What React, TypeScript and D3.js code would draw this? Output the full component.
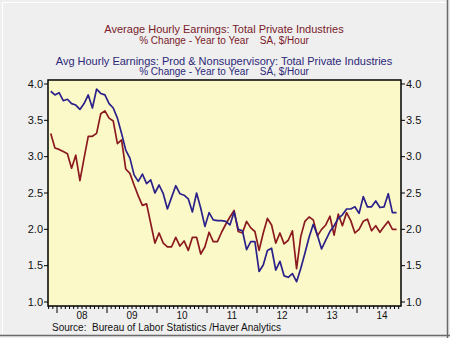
import React from 'react';
import * as d3 from 'd3';

// Monthly data, Nov 2007 .. Oct 2014 (Y/Y % change)
const startYear = 2007;
const startMonth = 10; // November (0-based)

const totalPrivate = [
  3.32, 3.12, 3.10, 3.07, 3.04, 2.84, 3.02, 2.67, 2.98, 3.28, 3.28, 3.32,
  3.59, 3.63, 3.53, 3.49, 3.18, 3.23, 2.83, 2.77, 2.61, 2.46, 2.33, 2.35,
  2.08, 1.81, 1.95, 1.81, 1.76, 1.76, 1.89, 1.77, 1.84, 1.71, 1.89, 1.89,
  1.66, 1.76, 1.96, 1.83, 1.83, 1.96, 2.07, 2.17, 2.26, 1.97, 1.95, 2.11,
  2.02, 1.97, 1.71, 1.95, 2.15, 2.06, 1.81, 1.95, 1.80, 1.85, 1.98, 1.46,
  1.90, 2.11, 2.17, 2.13, 1.91, 2.00, 2.06, 2.18, 1.92, 2.21, 2.05, 2.23,
  2.12, 1.95, 2.00, 2.11, 2.14, 1.98, 2.05, 1.96, 2.04, 2.11, 2.00, 2.00,
];

const prodNonsup = [
  3.90, 3.85, 3.88, 3.77, 3.79, 3.73, 3.71, 3.65, 3.73, 3.85, 3.67, 3.93,
  3.87, 3.85, 3.73, 3.67, 3.53, 3.32, 3.09, 2.98, 2.75, 2.66, 2.76, 2.63,
  2.68, 2.50, 2.61, 2.49, 2.28, 2.44, 2.60, 2.49, 2.47, 2.42, 2.24, 2.50,
  2.29, 2.04, 2.23, 2.13, 2.12, 2.12, 2.11, 2.06, 2.24, 2.00, 1.98, 1.72,
  1.83, 1.83, 1.42, 1.51, 1.71, 1.74, 1.44, 1.56, 1.36, 1.34, 1.39, 1.28,
  1.46, 1.67, 1.89, 2.07, 1.92, 1.73, 1.85, 1.97, 2.05, 2.15, 2.20, 2.28,
  2.28, 2.31, 2.22, 2.45, 2.31, 2.31, 2.39, 2.30, 2.31, 2.49, 2.23, 2.23,
];

const yearLabels = ['08', '09', '10', '11', '12', '13', '14'];
const yTicks = [1.0, 1.5, 2.0, 2.5, 3.0, 3.5, 4.0];

const W = 450;
const H = 338;
const L = 48;
const R = 401;
const T = 80;
const B = 306;

const RED = '#8b1a1f';
const BLUE = '#2b218a';
const FONT = '"Liberation Sans", Arial, sans-serif';

export default function App() {
  const x = d3.scaleLinear().domain([2007.82, 2014.88]).range([L, R]);
  const y = d3.scaleLinear().domain([0.945, 4.055]).range([B, T]);
  const tAt = (i: number) => startYear + (startMonth + i + 0.5) / 12;

  const line = d3
    .line<number>()
    .x((_, i) => x(tAt(i)))
    .y((d) => y(d));

  const monthTicks: { t: number; major: boolean }[] = [];
  for (let yr = 2007; yr <= 2015; yr++) {
    for (let m = 0; m < 12; m++) {
      const t = yr + m / 12;
      if (x(t) >= L && x(t) <= R) monthTicks.push({ t, major: m === 0 });
    }
  }

  return (
    <svg
      width={W}
      height={H}
      style={{ position: 'absolute', left: 0, top: 0, display: 'block' }}
      fontFamily={FONT}
    >
      <defs>
        <clipPath id="plotclip">
          <rect x={L} y={T} width={R - L} height={B - T} />
        </clipPath>
      </defs>
      <rect x={0} y={0} width={W} height={H} fill="#efefef" />
      <line x1={2.5} y1={2} x2={2.5} y2={334} stroke="#ffffff" strokeWidth={1} />
      <line x1={2} y1={2.5} x2={446} y2={2.5} stroke="#ffffff" strokeWidth={1} />
      <line x1={447.5} y1={0} x2={447.5} y2={H} stroke="#6a6a6a" strokeWidth={1.5} />
      <line x1={0} y1={335.5} x2={W} y2={335.5} stroke="#6a6a6a" strokeWidth={1.5} />

      {/* titles */}
      <g textAnchor="middle">
        <text x={224} y={33} fontSize={11} fill="#7a1a2a">
          Average Hourly Earnings: Total Private Industries
        </text>
        <text x={224} y={44} fontSize={10} fill="#7a1a2a">
          % Change - Year to Year{'\u00a0\u00a0\u00a0\u00a0'}SA, $/Hour
        </text>
        <text x={224} y={65} fontSize={11} fill="#2c2878">
          Avg Hourly Earnings: Prod &amp; Nonsupervisory: Total Private Industries
        </text>
        <text x={224} y={75} fontSize={10} fill="#2c2878">
          % Change - Year to Year{'\u00a0\u00a0\u00a0\u00a0'}SA, $/Hour
        </text>
      </g>

      {/* plot area */}
      <rect x={L} y={T} width={R - L} height={B - T} fill="#fcf9c8" />

      <g clipPath="url(#plotclip)" fill="none" strokeLinejoin="round">
        <path d={line(totalPrivate) || ''} stroke={RED} strokeWidth={1.7} />
        <path d={line(prodNonsup) || ''} stroke={BLUE} strokeWidth={1.7} />
      </g>

      <rect x={L} y={T} width={R - L} height={B - T} fill="none" stroke="#000" strokeWidth={1.5} />

      {/* y axes */}
      {yTicks.map((v) => (
        <g key={v}>
          <line x1={L - 4} x2={L} y1={y(v)} y2={y(v)} stroke="#000" strokeWidth={1} />
          <line x1={R} x2={R + 4} y1={y(v)} y2={y(v)} stroke="#000" strokeWidth={1} />
          <text x={L - 5} y={y(v) + 3.8} fontSize={11} textAnchor="end" fill="#111">
            {v.toFixed(1)}
          </text>
          <text x={R + 5} y={y(v) + 3.8} fontSize={11} textAnchor="start" fill="#111">
            {v.toFixed(1)}
          </text>
        </g>
      ))}

      {/* x axis ticks */}
      {monthTicks.map((m, i) => (
        <line
          key={i}
          x1={x(m.t)}
          x2={x(m.t)}
          y1={B}
          y2={B + (m.major ? 7 : 3)}
          stroke="#000"
          strokeWidth={1}
        />
      ))}
      {yearLabels.map((lab, i) => (
        <text key={lab} x={x(2008 + i + 0.5)} y={318.5} fontSize={10} textAnchor="middle" fill="#111">
          {lab}
        </text>
      ))}

      <text x={52} y={330.5} fontSize={10} fill="#111">
        Source:{'\u00a0\u00a0'}Bureau of Labor Statistics /Haver Analytics
      </text>
    </svg>
  );
}
